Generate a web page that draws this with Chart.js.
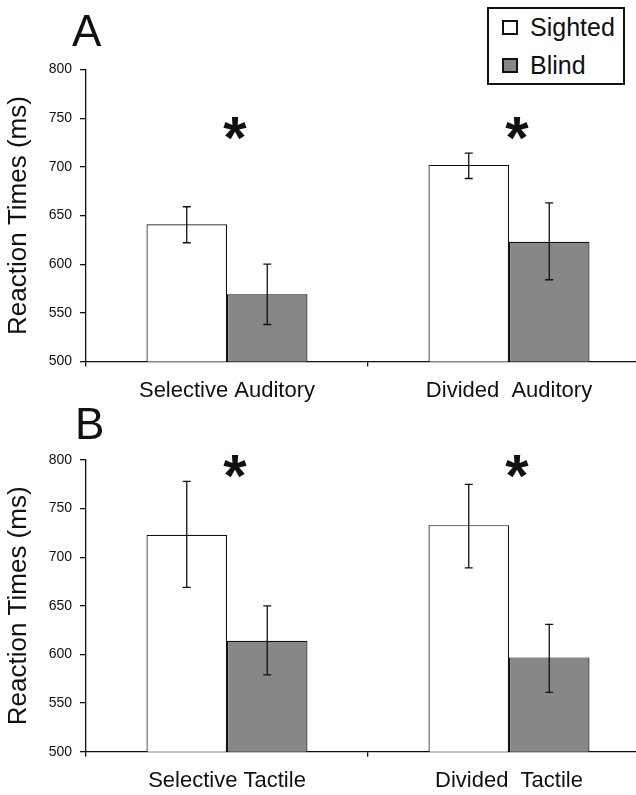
<!DOCTYPE html>
<html>
<head>
<meta charset="utf-8">
<script src="https://cdn.jsdelivr.net/npm/chart.js@4.4.1/dist/chart.umd.min.js"></script>
<style>
  html, body { margin: 0; padding: 0; background: #fff; }
  body {
    width: 636px; height: 795px; overflow: hidden; position: relative;
    font-family: "Liberation Sans", Arial, sans-serif; color: #111;
  }
  canvas { position: absolute; left: 0; }
  #chart-a { top: 0; }
  #chart-b { top: 405px; }
  .panel-letter { position: absolute; font-size: 44px; line-height: 1; }
  #legend {
    position: absolute; left: 487px; top: 7px; width: 134px; height: 74px;
    border: 2px solid #111; background: #fff;
  }
  .legend-row {
    position: absolute; left: 13px; height: 37px;
    display: flex; align-items: center; font-size: 25px;
  }
  .legend-box { width: 12px; height: 11px; border: 2px solid #111; margin-right: 12px; }
</style>
</head>
<body>
<canvas id="chart-a" width="650" height="405"></canvas>
<canvas id="chart-b" width="650" height="390"></canvas>

<div class="panel-letter" style="left:72px; top:9px;">A</div>
<div class="panel-letter" style="left:75px; top:402px;">B</div>

<div id="legend">
  <div class="legend-row" style="top:0;"><span class="legend-box" style="background:#fff"></span>Sighted</div>
  <div class="legend-row" style="top:38px;"><span class="legend-box" style="background:#878787"></span>Blind</div>
</div>

<script>
// Panel A - auditory tasks
const categoriesA = ['Selective Auditory', 'Divided  Auditory']
const sightedA    = [641, 702]
const blindA      = [569, 623]
const sightedErrA = [[622, 659], [688, 714]]
const blindErrA   = [[538, 600], [584, 663]]
const starsA      = [744, 744]

// Panel B - tactile tasks
const categoriesB = ['Selective Tactile', 'Divided  Tactile']
const sightedB    = [723, 733]
const blindB      = [614, 597]
const sightedErrB = [[669, 778], [689, 775]]
const blindErrB   = [[579, 650], [561, 631]]
const starsB      = [798, 798]

const yTicks = [500, 550, 600, 650, 700, 750, 800]

const INK   = '#111'
const GREY  = '#878787'
const FONT  = '"Liberation Sans", Arial, sans-serif'

// error bars + significance stars, drawn on top of the bars
const overlayPlugin = {
  id: 'overlay',
  afterDatasetsDraw(chart) {
    const { ctx, scales: { x, y } } = chart
    const errs = chart.options.plugins.overlay
    ctx.save()
    ctx.strokeStyle = INK
    ctx.lineWidth = 1.3
    chart.data.datasets.forEach((ds, di) => {
      const meta = chart.getDatasetMeta(di)
      meta.data.forEach((bar, i) => {
        const [lo, hi] = errs.errors[di][i]
        const yl = y.getPixelForValue(lo)
        const yh = y.getPixelForValue(hi)
        ctx.beginPath()
        ctx.moveTo(bar.x, yl); ctx.lineTo(bar.x, yh)
        ctx.moveTo(bar.x - 4, yl); ctx.lineTo(bar.x + 4, yl)
        ctx.moveTo(bar.x - 4, yh); ctx.lineTo(bar.x + 4, yh)
        ctx.stroke()
      })
    })
    ctx.fillStyle = INK
    ctx.font = 'bold 60px ' + FONT
    ctx.textAlign = 'center'
    ctx.textBaseline = 'alphabetic'
    errs.stars.forEach((v, i) => {
      const cx = x.getPixelForValue(i) + 8
      const cy = y.getPixelForValue(v) + 0.57 * 60
      ctx.fillText('*', cx, cy)
    })
    ctx.restore()
  },
}

function makePanel(id, categories, sighted, blind, sightedErr, blindErr, stars, topPad, bottomPx) {
  const canvas = document.getElementById(id)
  new Chart(canvas, {
    type: 'bar',
    data: {
      labels: categories,
      datasets: [
        { label: 'Sighted', data: sighted, backgroundColor: '#fff', borderColor: INK, borderWidth: 1.2 },
        { label: 'Blind',   data: blind,   backgroundColor: GREY,   borderColor: INK, borderWidth: 1.2 },
      ],
    },
    options: {
      responsive: false,
      animation: false,
      layout: { padding: { top: topPad, left: 0, right: 0, bottom: 0 } },
      datasets: { bar: { categoryPercentage: 0.571, barPercentage: 1.0 } },
      plugins: {
        legend: { display: false },
        tooltip: { enabled: false },
        overlay: { errors: [sightedErr, blindErr], stars },
      },
      scales: {
        x: {
          afterFit: s => { s.height = canvas.height - bottomPx },
          grid: { drawOnChartArea: false, tickLength: 5, color: INK, lineWidth: 1.3 },
          border: { color: INK, width: 1.3 },
          ticks: { color: INK, padding: 11, font: { family: FONT, size: 22 } },
        },
        y: {
          min: 500,
          max: 800,
          afterFit: s => { s.width = 86 },
          afterBuildTicks: s => { s.ticks = yTicks.map(v => ({ value: v })) },
          grid: { drawOnChartArea: false, tickLength: 6, color: INK, lineWidth: 1.3 },
          border: { color: INK, width: 1.3 },
          ticks: { color: INK, padding: 8, font: { family: FONT, size: 14 } },
          title: {
            display: true,
            text: 'Reaction Times (ms)',
            color: INK,
            padding: { top: 3.5, bottom: 0 },
            font: { family: FONT, size: 26 },
          },
        },
      },
    },
    plugins: [overlayPlugin],
  })
}

makePanel('chart-a', categoriesA, sightedA, blindA, sightedErrA, blindErrA, starsA, 69.5, 361.5)
makePanel('chart-b', categoriesB, sightedB, blindB, sightedErrB, blindErrB, starsB, 55, 346.7)
</script>
</body>
</html>
